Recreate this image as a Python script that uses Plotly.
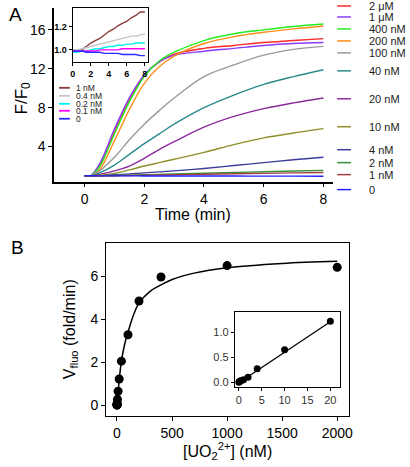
import plotly.graph_objects as go

W, H = 410, 467
def px(x): return x / W
def py(y): return 1 - y / H

FONT = "Liberation Sans, Arial, sans-serif"

# ---------------- Panel A data ----------------
t = [0, 0.2, 0.5, 1, 1.5, 2, 2.5, 3, 4, 5, 6, 7, 8]
labels_A = ["2 μM", "1 μM", "400 nM", "200 nM", "100 nM", "40 nM", "20 nM", "10 nM", "4 nM", "2 nM", "1 nM", "0"]
colors_A = ["#ff2a2a", "#8a3cff", "#22ee22", "#ff8c1a", "#9a9a9a", "#2a8a8a", "#8b2a9b", "#8f8f2a", "#3a3a9a", "#3a8f3a", "#a04040", "#2020ff"]
f_2uM   = [1.0, 1.0, 2.0, 5.5, 8.8, 11.3, 12.7, 13.5, 14.1, 14.4, 14.7, 14.9, 15.1]
f_1uM   = [1.0, 1.0, 2.2, 5.8, 9.0, 11.4, 12.7, 13.4, 13.8, 14.1, 14.4, 14.6, 14.7]
f_400nM = [1.0, 1.0, 1.9, 5.3, 8.6, 11.2, 12.8, 13.7, 14.9, 15.6, 16.0, 16.35, 16.6]
f_200nM = [1.0, 1.0, 1.6, 4.6, 7.8, 10.5, 12.2, 13.3, 14.6, 15.3, 15.75, 16.1, 16.4]
f_100nM = [1.0, 1.0, 1.5, 2.9, 4.7, 6.3, 7.7, 9.0, 11.2, 12.4, 13.4, 14.0, 14.3]
f_40nM  = [1.0, 1.0, 1.3, 2.1, 3.2, 4.3, 5.3, 6.3, 8.0, 9.3, 10.4, 11.2, 11.9]
f_20nM  = [1.0, 1.0, 1.15, 1.5, 2.0, 2.8, 3.7, 4.5, 6.0, 7.1, 7.9, 8.5, 9.0]
f_10nM  = [1.0, 1.0, 1.05, 1.25, 1.6, 2.0, 2.35, 2.7, 3.4, 4.2, 4.9, 5.4, 5.85]
f_4nM   = [1.0, 1.0, 1.0, 1.1, 1.2, 1.3, 1.4, 1.5, 1.75, 2.05, 2.35, 2.65, 2.9]
f_2nM   = [1.0, 1.0, 1.0, 1.03, 1.07, 1.1, 1.14, 1.18, 1.26, 1.34, 1.42, 1.49, 1.55]
f_1nM   = [1.0, 1.0, 0.99, 1.0, 1.03, 1.06, 1.08, 1.1, 1.16, 1.21, 1.25, 1.3, 1.33]
f_0nM   = [1.0, 1.0, 0.99, 0.99, 0.99, 0.98, 0.98, 0.98, 0.97, 0.97, 0.96, 0.96, 0.95]
series_A = [f_2uM, f_1uM, f_400nM, f_200nM, f_100nM, f_40nM, f_20nM, f_10nM, f_4nM, f_2nM, f_1nM, f_0nM]
# legend label vertical pixel positions (right of panel A)
legend_y_px = [6, 17, 29, 41, 53, 71, 99, 127, 150, 163, 175, 190]

# inset A (low concentrations)
t_in = [0, 0.5, 1, 1.5, 2, 2.5, 3, 3.5, 4, 4.5, 5, 5.5, 6, 6.5, 7, 7.5, 8]
labels_in = ["1 nM", "0.4 nM", "0.2 nM", "0.1 nM", "0"]
colors_in = ["#8b3a3a", "#c4c4c4", "#00f0f0", "#ff00ff", "#2a2aff"]
i_1nM  = [1.00, 0.985, 1.00, 1.03, 1.06, 1.08, 1.10, 1.13, 1.16, 1.18, 1.21, 1.23, 1.25, 1.28, 1.30, 1.33, 1.33]
i_04nM = [1.00, 1.00, 1.01, 1.02, 1.03, 1.04, 1.05, 1.06, 1.07, 1.08, 1.09, 1.10, 1.11, 1.12, 1.12, 1.13, 1.14]
i_02nM = [0.98, 0.98, 0.99, 0.99, 1.00, 1.01, 1.01, 1.02, 1.03, 1.03, 1.04, 1.04, 1.05, 1.05, 1.06, 1.06, 1.06]
i_01nM = [0.99, 0.99, 0.99, 0.99, 0.99, 0.99, 1.00, 1.00, 1.00, 1.00, 1.00, 1.01, 1.01, 1.01, 1.01, 1.01, 1.01]
i_0nM  = [0.99, 0.99, 0.99, 0.98, 0.98, 0.98, 0.98, 0.97, 0.97, 0.97, 0.97, 0.96, 0.96, 0.96, 0.96, 0.95, 0.95]
series_in = [i_1nM, i_04nM, i_02nM, i_01nM, i_0nM]
legend_in_y_px = [88, 96, 104, 111, 119]

# ---------------- Panel B data ----------------
conc = [0, 0.1, 0.2, 0.4, 1, 2, 4, 10, 20, 40, 100, 200, 400, 1000, 2000]
vfluo = [0.0, 0.01, 0.02, 0.03, 0.05, 0.1, 0.27, 0.65, 1.22, 2.05, 3.28, 4.85, 5.97, 6.5, 6.42]
fit_x = [0, 10, 20, 40, 70, 100, 150, 200, 300, 400, 500, 700, 1000, 1500, 2000]
fit_y = [0, 0.6, 1.15, 2.05, 2.85, 3.4, 4.2, 4.75, 5.3, 5.6, 5.85, 6.15, 6.4, 6.6, 6.7]
lin_x = [0, 20]
lin_y = [-0.01, 1.21]
inset_conc = [0, 0.1, 0.2, 0.4, 1, 2, 4, 10, 20]
inset_v = [0.0, 0.01, 0.02, 0.03, 0.05, 0.1, 0.27, 0.65, 1.22]

fig = go.Figure()

for lab, col, ys in zip(labels_A, colors_A, series_A):
    fig.add_trace(go.Scatter(x=t, y=ys, mode="lines", name=lab, line=dict(color=col, width=1.4, shape="spline"),
                             xaxis="x", yaxis="y", showlegend=False))
for lab, col, ys in zip(labels_in, colors_in, series_in):
    fig.add_trace(go.Scatter(x=t_in, y=ys, mode="lines", name=lab, line=dict(color=col, width=1.4),
                             xaxis="x2", yaxis="y2", showlegend=False))

fig.add_trace(go.Scatter(x=fit_x, y=fit_y, mode="lines", line=dict(color="black", width=1.5, shape="spline"),
                         xaxis="x3", yaxis="y3", showlegend=False))
fig.add_trace(go.Scatter(x=conc, y=vfluo, mode="markers", marker=dict(color="black", size=9),
                         xaxis="x3", yaxis="y3", showlegend=False))
fig.add_trace(go.Scatter(x=lin_x, y=lin_y, mode="lines", line=dict(color="black", width=1.3),
                         xaxis="x4", yaxis="y4", showlegend=False))
fig.add_trace(go.Scatter(x=inset_conc, y=inset_v, mode="markers", marker=dict(color="black", size=7),
                         xaxis="x4", yaxis="y4", showlegend=False))

axcommon = dict(showgrid=False, zeroline=False, linecolor="black", ticks="outside", tickcolor="black")

shapes = []
annotations = []
for lab, col, yy in zip(labels_A, colors_A, legend_y_px):
    shapes.append(dict(type="line", xref="paper", yref="paper", x0=px(340), x1=px(354), y0=py(yy), y1=py(yy),
                       line=dict(color=col, width=1.5)))
    annotations.append(dict(text=lab, xref="paper", yref="paper", x=px(370), y=py(yy), xanchor="left", yanchor="middle",
                            showarrow=False, font=dict(size=11, color="#222", family=FONT)))
for lab, col, yy in zip(labels_in, colors_in, legend_in_y_px):
    shapes.append(dict(type="line", xref="paper", yref="paper", x0=px(57), x1=px(68), y0=py(yy), y1=py(yy),
                       line=dict(color=col, width=1.8)))
    annotations.append(dict(text=lab, xref="paper", yref="paper", x=px(72), y=py(yy), xanchor="left", yanchor="middle",
                            showarrow=False, font=dict(size=8.5, color="#222", family=FONT)))

annotations += [
    dict(text="A", xref="paper", yref="paper", x=px(4), y=py(15), xanchor="left", yanchor="middle", showarrow=False,
         font=dict(size=19, color="black", family=FONT)),
    dict(text="B", xref="paper", yref="paper", x=px(6), y=py(248), xanchor="left", yanchor="middle", showarrow=False,
         font=dict(size=19, color="black", family=FONT)),
    dict(text="F/F<sub>0</sub>", xref="paper", yref="paper", x=px(20), y=py(98), textangle=-90, showarrow=False,
         xanchor="center", yanchor="middle", font=dict(size=17, color="black", family=FONT)),
    dict(text="Time (min)", xref="paper", yref="paper", x=px(193), y=py(215), showarrow=False,
         xanchor="center", yanchor="middle", font=dict(size=16, color="black", family=FONT)),
    dict(text="V<sub>fluo</sub> (fold/min)", xref="paper", yref="paper", x=px(68), y=py(330), textangle=-90,
         showarrow=False, xanchor="center", yanchor="middle", font=dict(size=16, color="black", family=FONT)),
    dict(text="[UO<sub>2</sub><sup>2+</sup>] (nM)", xref="paper", yref="paper", x=px(228), y=py(452), showarrow=False,
         xanchor="center", yanchor="middle", font=dict(size=16, color="black", family=FONT)),
]

fig.update_layout(
    width=W, height=H, margin=dict(l=0, r=0, t=0, b=0),
    paper_bgcolor="white", plot_bgcolor="rgba(0,0,0,0)",
    font=dict(family=FONT, color="black"),
    xaxis=dict(domain=[px(52), px(336)], range=[-1.02, 8.33], tickvals=[0, 2, 4, 6, 8], ticklen=4,
               linewidth=1.5, tickfont=dict(size=14), anchor="y", **axcommon),
    yaxis=dict(domain=[py(182), py(8)], range=[0.4, 18.25], tickvals=[4, 8, 12, 16], ticklen=4,
               linewidth=1.5, tickfont=dict(size=14), anchor="x", **axcommon),
    xaxis2=dict(domain=[px(71), px(148)], range=[0, 8.4], tickvals=[0, 2, 4, 6, 8], ticklen=3,
                linewidth=1.2, mirror=True, tickfont=dict(size=9, weight="bold"),
                anchor="y2", **axcommon),
    yaxis2=dict(domain=[py(62), py(8)], range=[0.896, 1.365], tickvals=[1.0, 1.2], tickformat=".1f", ticklen=3,
                linewidth=1.2, mirror=True, tickfont=dict(size=9, weight="bold"),
                anchor="x2", **axcommon),
    xaxis3=dict(domain=[px(105), px(352)], range=[-98, 2107], tickvals=[0, 500, 1000, 1500, 2000], ticklen=4,
                linewidth=1.3, mirror=True, tickfont=dict(size=14), anchor="y3", **axcommon),
    yaxis3=dict(domain=[py(417), py(244)], range=[-0.51, 7.53], tickvals=[0, 2, 4, 6], ticklen=4,
                linewidth=1.3, mirror=True, tickfont=dict(size=14), anchor="x3", **axcommon),
    xaxis4=dict(domain=[px(236), px(343)], range=[-0.86, 22.15], tickvals=[0, 5, 10, 15, 20], ticklen=3,
                linewidth=1.2, mirror=True, tickfont=dict(size=11, color="#333"), anchor="y4", **axcommon),
    yaxis4=dict(domain=[py(388), py(313)], range=[-0.1, 1.4], tickvals=[0.0, 0.5, 1.0], tickformat=".1f", ticklen=3,
                linewidth=1.2, mirror=True, tickfont=dict(size=11, color="#333"), anchor="x4", **axcommon),
    shapes=shapes, annotations=annotations,
)

fig.write_html("out.html", config={"displayModeBar": False},
               post_script="document.body.style.margin='0px'; document.body.style.overflow='hidden';")
